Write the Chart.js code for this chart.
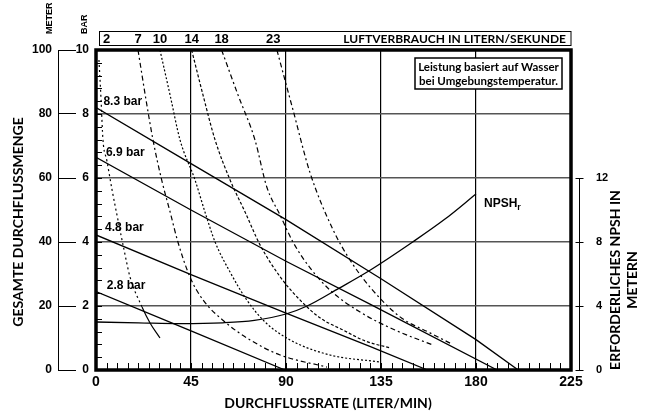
<!DOCTYPE html>
<html>
<head>
<meta charset="utf-8">
<script src="https://cdn.jsdelivr.net/npm/chart.js@4.4.1/dist/chart.umd.min.js"></script>
<style>
  html, body { margin: 0; padding: 0; background: #fff; }
  canvas { display: block; }
</style>
</head>
<body>
<canvas id="pumpChart" width="647" height="417"></canvas>
<script>
// Förderhöhe (bar) über Durchflussrate (l/min), je Luftdruck
const line83 = [[0, 8.2], [45, 6.45], [90, 4.7], [135, 2.85], [180, 0.95], [200, 0]];
const line69 = [[0, 6.65], [45, 5.0], [90, 3.4], [130, 2.05], [190, 0]];
const line48 = [[0, 4.22], [45, 2.98], [90, 1.78], [130, 0.73], [157, 0]];
const line28 = [[0, 2.45], [45, 1.22], [89.5, 0]];
const pressureNames = ['8.3 bar', '6.9 bar', '4.8 bar', '2.8 bar'];

// Luftverbrauch (Liter/Sekunde)
const air2 = [[1.4, 9.69], [2.4, 8.44], [3.3, 7.19], [5.1, 6.56], [7.6, 5.63], [10.4, 4.69], [13.3, 3.75], [16.1, 2.91], [21.8, 1.97], [25.6, 1.47], [30.3, 1.0]];
const air7 = [[19.9, 10], [23.7, 8.44], [27.0, 7.19], [31.1, 5.94], [35.1, 4.94], [38.8, 4.0], [44.5, 2.91], [50.7, 2.19], [61.1, 1.5], [73.0, 0.94], [87.2, 0.47], [109.4, 0.09]];
const air10 = [[30.3, 10], [35.1, 8.59], [39.8, 7.19], [46.9, 5.94], [51.6, 4.94], [56.4, 4.0], [63.5, 3.06], [71.4, 2.19], [80.1, 1.5], [91.9, 0.94], [110.8, 0.47], [134.5, 0.25]];
const air14 = [[45.3, 10], [50.7, 8.59], [56.4, 7.19], [63.5, 5.94], [70.6, 4.94], [77.7, 3.91], [87.6, 2.88], [96.6, 2.19], [106.1, 1.63], [117.0, 1.25], [127.4, 0.91], [139.3, 0.69]];
const air18 = [[59.5, 10], [67.3, 8.59], [75.3, 7.19], [80.9, 5.72], [87.2, 4.84], [93.3, 4.0], [101.4, 3.19], [110.8, 2.5], [125.1, 1.81], [141.6, 1.25], [159.6, 0.78]];
const air23 = [[85.7, 10], [93.3, 8.13], [101.4, 6.16], [112.3, 4.38], [120.3, 3.44], [129.8, 2.59], [144.0, 1.66], [158.2, 1.16], [167.7, 0.84]];
const airLabels = ['2', '7', '10', '14', '18', '23'];
const airLabelFlow = [5, 19.9, 30.3, 45.3, 59.5, 84];

// NPSHr (Meter)
const npshr = [[0, 3.0], [20, 2.95], [40, 2.9], [60, 2.95], [75, 3.1], [90, 3.5], [100, 4.0], [115, 5.1], [130, 6.25], [150, 8.0], [165, 9.4], [180, 11.0]];
const npshTicks = [0, 4, 8, 12];

const NUM = "'Liberation Sans', Arial, sans-serif";
const TXT = "Lato, 'Open Sans', sans-serif";

const pts = (arr) => arr.map((p) => ({ x: p[0], y: p[1] }));

function pressureSet(arr) {
    return { data: pts(arr), borderColor: '#000', borderWidth: 1.3, pointRadius: 0, tension: 0 };
}

function airSet(arr, dash, width) {
    return {
        data: pts(arr), borderColor: '#000', borderWidth: width || 1.2, borderDash: dash,
        pointRadius: 0, cubicInterpolationMode: 'monotone',
    };
}

const datasets = [
    pressureSet(line83),
    pressureSet(line69),
    pressureSet(line48),
    pressureSet(line28),
    Object.assign(airSet(air2, [2, 3]), {
        segment: { borderDash: (c) => (c.p0.parsed.x >= 21 ? [] : [2, 3]) },
    }),
    airSet(air7, [5, 3, 2, 3]),
    airSet(air10, [2, 2]),
    airSet(air14, [3, 2]),
    airSet(air18, [5, 3, 2, 3]),
    airSet(air23, [5, 3, 2, 3]),
    { data: pts(npshr), yAxisID: 'yN', borderColor: '#000', borderWidth: 1.3, pointRadius: 0, cubicInterpolationMode: 'monotone' },
];

// Rahmen, Teilstriche, Beschriftungen
const decor = {
    id: 'decor',
    afterDraw(chart) {
        const { ctx, chartArea: a, scales } = chart;
        const x = scales.x, y = scales.y, yM = scales.yM, yN = scales.yN;
        ctx.save();
        ctx.strokeStyle = '#000';
        ctx.fillStyle = '#000';

        ctx.lineWidth = 1;
        ctx.beginPath();
        for (let i = 1; i < 25; i++) {
            const py = Math.round(y.getPixelForValue(i * 0.4)) + 0.5;
            ctx.moveTo(a.left, py);
            ctx.lineTo(a.left + 6, py);
        }
        for (let v = 5; v < 225; v += 5) {
            const px = Math.round(x.getPixelForValue(v)) + 0.5;
            ctx.moveTo(px, a.bottom);
            ctx.lineTo(px, a.bottom - 7);
        }
        // Meter-Achse
        const mx = yM.right - 17.5;
        ctx.moveTo(mx, yM.getPixelForValue(100));
        ctx.lineTo(mx, yM.getPixelForValue(0));
        // NPSH-Achse
        const nx = a.right + 8.5;
        ctx.moveTo(nx, yN.getPixelForValue(npshTicks[npshTicks.length - 1]));
        ctx.lineTo(nx, yN.getPixelForValue(0));
        npshTicks.forEach((v) => {
            const py = Math.round(yN.getPixelForValue(v)) + 0.5;
            ctx.moveTo(nx - 4, py);
            ctx.lineTo(nx + 4, py);
        });
        ctx.stroke();

        ctx.lineWidth = 3.5;
        ctx.strokeRect(a.left, a.top, a.right - a.left, a.bottom - a.top);

        // Kopfzeile Luftverbrauch
        ctx.lineWidth = 1;
        ctx.strokeRect(99.5, 31.5, a.right - 99.5, 14);
        ctx.font = 'bold 12px ' + TXT;
        ctx.textAlign = 'right';
        ctx.textBaseline = 'middle';
        ctx.fillText('LUFTVERBRAUCH IN LITERN/SEKUNDE', a.right - 5, 39);

        // Hinweisbox
        ctx.fillStyle = '#fff';
        ctx.fillRect(415, 58, 147, 31);
        ctx.lineWidth = 1.5;
        ctx.strokeRect(415, 58, 147, 31);
        ctx.fillStyle = '#000';
        ctx.font = 'bold 11.5px ' + TXT;
        ctx.textAlign = 'center';
        ctx.fillText('Leistung basiert auf Wasser', 488.5, 67);
        ctx.fillText('bei Umgebungstemperatur.', 488.5, 81);

        // Druckbeschriftungen
        ctx.font = 'bold 12px ' + NUM;
        ctx.textAlign = 'left';
        const labelAt = [[3.5, 8.4], [4.7, 6.8], [4.3, 4.46], [5.1, 2.62]];
        pressureNames.forEach((t, i) => {
            ctx.fillText(t, x.getPixelForValue(labelAt[i][0]), y.getPixelForValue(labelAt[i][1]));
        });
        const nxl = x.getPixelForValue(183.8), nyl = y.getPixelForValue(5.19);
        ctx.fillText('NPSH', nxl, nyl);
        const w = ctx.measureText('NPSH').width;
        ctx.font = 'bold 9px ' + NUM;
        ctx.fillText('r', nxl + w, nyl + 4);

        // Achsentitel
        const rot = (text, cx, cy, font, align) => {
            ctx.save();
            ctx.translate(cx, cy);
            ctx.rotate(-Math.PI / 2);
            ctx.font = font;
            ctx.textAlign = align;
            ctx.fillText(text, 0, 0);
            ctx.restore();
        };
        rot('METER', 50, 34, 'bold 9px ' + NUM, 'left');
        rot('BAR', 85, 34, 'bold 9px ' + NUM, 'left');
        rot('GESAMTE DURCHFLUSSMENGE', 18, 222, 'bold 14px ' + TXT, 'center');
        rot('ERFORDERLICHES NPSH IN', 615, 280, 'bold 14px ' + TXT, 'center');
        rot('METERN', 632, 280, 'bold 14px ' + TXT, 'center');
        ctx.font = 'bold 14px ' + TXT;
        ctx.textAlign = 'center';
        ctx.fillText('DURCHFLUSSRATE (LITER/MIN)', 328, 403);
        ctx.restore();
    },
};

Chart.defaults.color = '#000';

new Chart(document.getElementById('pumpChart'), {
    type: 'line',
    data: { datasets },
    plugins: [decor],
    options: {
        responsive: false,
        animation: false,
        layout: { padding: 0 },
        plugins: { legend: { display: false }, tooltip: { enabled: false } },
        scales: {
            x: {
                type: 'linear', position: 'bottom', min: 0, max: 225,
                ticks: { stepSize: 45, autoSkip: false, maxRotation: 0, padding: 4, font: { family: NUM, size: 14, weight: 'bold' } },
                grid: { color: '#000', lineWidth: 1.2, drawTicks: false },
                border: { display: false },
                afterFit: (s) => { s.height = 47; },
            },
            x2: {
                type: 'linear', position: 'top', min: 0, max: 225,
                afterBuildTicks: (s) => { s.ticks = airLabelFlow.map((v) => ({ value: v })); },
                ticks: { autoSkip: false, maxRotation: 0, padding: -5, callback: (v, i) => airLabels[i], font: { family: NUM, size: 13, weight: 'bold' } },
                grid: { display: false },
                border: { display: false },
                afterFit: (s) => { s.height = 50; },
            },
            y: {
                type: 'linear', position: 'left', weight: 0, min: 0, max: 10,
                ticks: { stepSize: 2, padding: 7, font: { family: NUM, size: 12, weight: 'bold' } },
                grid: { color: '#555', lineWidth: 1.6, drawTicks: false },
                border: { display: false },
                afterFit: (s) => { s.width = 20; },
            },
            yM: {
                type: 'linear', position: 'left', weight: 1, min: 0, max: 100,
                ticks: { stepSize: 20, padding: 6, font: { family: NUM, size: 12, weight: 'bold' } },
                grid: { drawOnChartArea: false, drawTicks: true, tickLength: 18, color: '#000', lineWidth: 1 },
                border: { display: false },
                afterFit: (s) => { s.width = 76; },
            },
            yN: {
                type: 'linear', position: 'right', min: 0, max: 20,
                afterBuildTicks: (s) => { s.ticks = npshTicks.map((v) => ({ value: v })); },
                ticks: { padding: 17, font: { family: NUM, size: 11, weight: 'bold' } },
                grid: { display: false },
                border: { display: false },
                afterFit: (s) => { s.width = 76; },
            },
        },
    },
});
</script>
</body>
</html>
